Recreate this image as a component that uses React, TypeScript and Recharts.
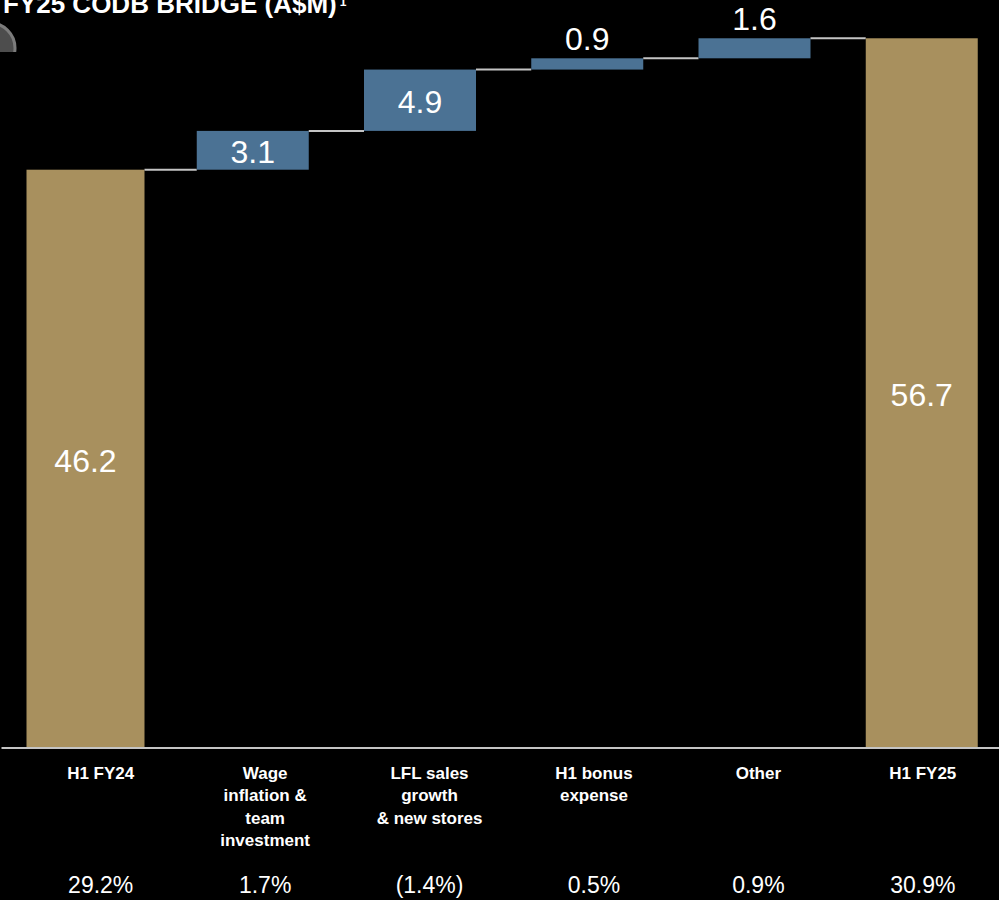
import { BarChart, Bar, XAxis, YAxis, LabelList } from 'recharts'

const CATEGORIES = ['H1 FY24', 'Wage inflation & team investment', 'LFL sales growth & new stores', 'H1 bonus expense', 'Other', 'H1 FY25']
const CATEGORY_LINES = [['H1 FY24'], ['Wage', 'inflation &', 'team', 'investment'], ['LFL sales', 'growth', '& new stores'], ['H1 bonus', 'expense'], ['Other'], ['H1 FY25']]
const STEP_VALUES = [46.2, 3.1, 4.9, 0.9, 1.6, 56.7]
const KINDS = ['total', 'step', 'step', 'step', 'step', 'total']
const MARGIN_PCT = ['29.2%', '1.7%', '(1.4%)', '0.5%', '0.9%', '30.9%']

const GOLD = '#a8905e'
const BLUE = '#4b7294'
const CONNECTOR = '#c4c4c4'
const FONT = '"Liberation Sans", Arial, sans-serif'

const W = 1007
const H = 900
const MARGIN = { top: 22, right: 2, left: 1.5, bottom: 0 }
const BAR = 112
const BAND = (W - MARGIN.left - MARGIN.right) / CATEGORIES.length
const GAP = BAND - BAR
const BASE_Y = 748

let running = 0
const data = CATEGORIES.map((name, i) => {
  const v = STEP_VALUES[i]
  if (KINDS[i] === 'total') {
    running = v
    return { name, base: 0, value: v }
  }
  const row = { name, base: running, value: v }
  running += v
  return row
})

const BarShape = (props: any) => {
  const { x, y, width, height, index } = props
  const fill = KINDS[index] === 'total' ? GOLD : BLUE
  // the opening bar is drawn a little wider in the original slide
  const grow = index === 0 ? 3 : 0
  return (
    <g>
      <rect x={x - grow} y={y} width={width + grow * 2} height={height} fill={fill} />
      {index < CATEGORIES.length - 1 && (
        <line x1={x + width + grow} x2={x + width + GAP} y1={y} y2={y} stroke={CONNECTOR} strokeWidth={2} />
      )}
    </g>
  )
}

const ValueLabel = (props: any) => {
  const { x, y, width, height, value } = props
  const inside = height > 30
  const ty = inside ? y + height / 2 + 13 : y - 8
  return (
    <text x={x + width / 2} y={ty} textAnchor="middle" fill="#fff" fontSize={32} fontFamily={FONT}>
      {Number(value).toFixed(1)}
    </text>
  )
}

const CategoryTick = (props: any) => {
  const { x, index } = props
  const lines = CATEGORY_LINES[index] || []
  return (
    <g>
      {lines.map((l, j) => (
        <text key={j} x={x} y={BASE_Y + 31 + j * 22.3} textAnchor="middle" fill="#fff" fontSize={17} fontWeight="bold" fontFamily={FONT}>
          {l}
        </text>
      ))}
      <text x={x} y={BASE_Y + 145} textAnchor="middle" fill="#fff" fontSize={23} fontFamily={FONT}>
        {MARGIN_PCT[index]}
      </text>
    </g>
  )
}

export default function App() {
  return (
    <div style={{ position: 'fixed', left: 0, top: 0, width: 999, height: 900, overflow: 'hidden', background: '#000' }}>
      <BarChart width={W} height={H} data={data} margin={MARGIN} barSize={BAR}>
        <XAxis dataKey="name" height={1} axisLine={{ stroke: CONNECTOR, strokeWidth: 2 }} tickLine={false} tick={false} />
        <XAxis xAxisId="labels" dataKey="name" height={151} axisLine={false} tickLine={false} interval={0} padding={{ left: 17, right: 0 }} tick={<CategoryTick />} />
        <YAxis hide domain={[0, 58]} />
        <Bar dataKey="base" stackId="a" fill="transparent" isAnimationActive={false} />
        <Bar dataKey="value" stackId="a" shape={<BarShape />} isAnimationActive={false}>
          <LabelList dataKey="value" content={<ValueLabel />} />
        </Bar>
      </BarChart>
      <svg width={999} height={60} style={{ position: 'absolute', left: 0, top: 0 }}>
        <defs>
          <clipPath id="iconClip">
            <rect x={0} y={0} width={40} height={52} />
          </clipPath>
        </defs>
        <circle cx={-10} cy={48} r={25} fill="#4d4d4d" stroke="#7c7c7c" strokeWidth={3} clipPath="url(#iconClip)" />
        <text x={3} y={13} fill="#fff" fontSize={26} fontWeight="bold" fontFamily={FONT}>
          FY25 CODB BRIDGE (A$M)
          <tspan fontSize={12} dy={-7} dx={3}>1</tspan>
        </text>
      </svg>
    </div>
  )
}
